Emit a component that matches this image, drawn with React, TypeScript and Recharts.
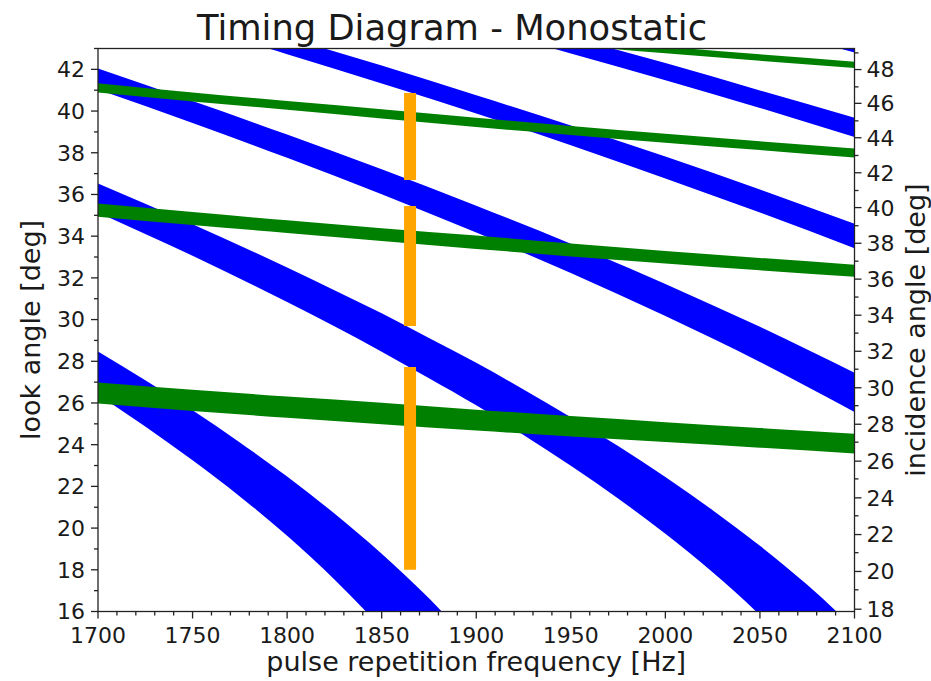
import React from 'react';
import { ComposedChart, Area, Line, XAxis, YAxis } from 'recharts';

// ---- data (look angle in deg vs PRF in Hz) ----
const prf50 = [1700, 1750, 1800, 1850, 1900, 1950, 2000, 2050, 2100];

// blue bands (transmit interference)
const bm2Lo = [51.36, 50.39, 49.37, 48.36, 47.3, 46.24, 45.11, 44.01, 42.81];
const bm2Hi = [51.86, 50.88, 49.93, 48.9, 47.91, 46.83, 45.78, 44.66, 43.54];
const bm1Lo = [48.71, 47.59, 46.44, 45.24, 44.05, 42.76, 41.475, 40.15, 38.75];
const bm1Hi = [49.29, 48.22, 47.08, 45.96, 44.75, 43.54, 42.3, 40.99, 39.68];
const b0Lo = [45.41, 44.11, 42.725, 41.32, 39.88, 38.36, 36.77, 35.13, 33.415];
const b0Hi = [46.14, 44.84, 43.53, 42.18, 40.76, 39.31, 37.82, 36.24, 34.59];
const b1Lo = [41.03, 39.43, 37.76, 36.01, 34.17, 32.23, 30.17, 27.97, 25.57];
const b1Hi = [42.045, 40.48, 38.875, 37.21, 35.46, 33.64, 31.71, 29.65, 27.45];

const prfB2 = [1700, 1750, 1800, 1825, 1850, 1875, 1900, 1925, 1950, 1975, 2000, 2025, 2050, 2075, 2100];
const b2Lo = [35.14, 33.06, 30.84, 29.68, 28.46, 27.19, 25.89, 24.47, 22.99, 21.42, 19.73, 17.88, 15.82, 13.42, 10.52];
const b2Hi = [36.53, 34.57, 32.5, 31.41, 30.3, 29.12, 27.93, 26.65, 25.32, 23.94, 22.45, 20.86, 19.15, 17.28, 15.18];

const prfB3 = [1700, 1725, 1750, 1775, 1800, 1825, 1850, 1875, 1900];
const b3Lo = [26.41, 24.87, 23.25, 21.52, 19.63, 17.54, 15.17, 12.38, 8.71];
const b3Hi = [28.47, 27.09, 25.65, 24.11, 22.47, 20.7, 18.77, 16.63, 14.2];

// green bands (nadir returns)
const g0Lo = [45.22, 44.78, 44.37, 43.98, 43.55, 43.15, 42.77, 42.41, 42.06];
const g0Hi = [45.56, 45.11, 44.69, 44.29, 43.89, 43.48, 43.09, 42.72, 42.37];
const g1Lo = [40.886, 40.46, 40.06, 39.64, 39.23, 38.85, 38.48, 38.13, 37.77];
const g1Hi = [41.33, 40.89, 40.48, 40.09, 39.68, 39.28, 38.91, 38.55, 38.21];
const g2Lo = [34.935, 34.53, 34.155, 33.77, 33.39, 33.03, 32.69, 32.36, 32.05];
const g2Hi = [35.57, 35.155, 34.76, 34.38, 34.03, 33.65, 33.29, 32.955, 32.63];
const g3Lo = [25.98, 25.62, 25.29, 24.98, 24.68, 24.39, 24.13, 23.855, 23.58];
const g3Hi = [26.98, 26.63, 26.31, 26.01, 25.68, 25.37, 25.08, 24.8, 24.53];

// orange: selected PRF, valid look angle intervals
const selectedPrf = 1865;
const orangeLo = [36.69, 29.69, 18.0];
const orangeHi = [40.87, 35.45, 27.72];

// axis ticks
const xMajor = [1700, 1750, 1800, 1850, 1900, 1950, 2000, 2050, 2100];
const xMinorStep = 10;
const lookMajor = [16, 18, 20, 22, 24, 26, 28, 30, 32, 34, 36, 38, 40, 42];
const lookMinor = [17, 19, 21, 23, 25, 27, 29, 31, 33, 35, 37, 39, 41, 43];
const incMajor = [18, 20, 22, 24, 26, 28, 30, 32, 34, 36, 38, 40, 42, 44, 46, 48];
const incMajorAtLook = [16.11, 17.92, 19.69, 21.45, 23.21, 24.98, 26.73, 28.48, 30.21, 31.94, 33.66, 35.37, 37.04, 38.72, 40.37, 41.99];
const incMinorAtLook = [17.04, 18.82, 20.59, 22.36, 24.12, 25.87, 27.62, 29.35, 31.08, 32.8, 34.5, 36.19, 37.87, 39.53, 41.16, 42.79];

// ---- build ----
const band = (xs: number[], lo: number[], hi: number[]) => xs.map((f, i) => ({ f, v: [lo[i], hi[i]] }));
const blueBands = [
  band(prf50, bm2Lo, bm2Hi),
  band(prf50, bm1Lo, bm1Hi),
  band(prf50, b0Lo, b0Hi),
  band(prf50, b1Lo, b1Hi),
  band(prfB2, b2Lo, b2Hi),
  band(prfB3, b3Lo, b3Hi),
];
const greenBands = [
  band(prf50, g0Lo, g0Hi),
  band(prf50, g1Lo, g1Hi),
  band(prf50, g2Lo, g2Hi),
  band(prf50, g3Lo, g3Hi),
];
const orangeSegs = orangeLo.map((lo, i) => [
  { f: selectedPrf, v: lo },
  { f: selectedPrf, v: orangeHi[i] },
]);

const xTicks: number[] = [];
for (let v = xMajor[0]; v <= xMajor[xMajor.length - 1]; v += xMinorStep) xTicks.push(v);
const lookTicks = [...lookMajor, ...lookMinor].sort((a, b) => a - b);
const incTicks = [...incMajorAtLook, ...incMinorAtLook].sort((a, b) => a - b);

// ---- layout / style ----
const W = 931;
const H = 681;
const PL = 98;
const PR = 854.5;
const PT = 48.5;
const PB = 611.5;
const FONT = 'DejaVu Sans';
const TICK = '#222';
const TXT = '#1a1a1a';
const TICK_FS = 22;
const LABEL_FS = 27;
const MAJ = 7;
const MIN = 4;

const XTick = (props: any) => {
  const { x, y, payload } = props;
  const v = payload.value;
  const major = xMajor.includes(v);
  return (
    <g>
      <line x1={x} x2={x} y1={y} y2={y + (major ? MAJ : MIN)} stroke={TICK} strokeWidth={1.3} />
      {major && (
        <text x={x} y={y + 31} textAnchor="middle" fontSize={TICK_FS} fontFamily={FONT} fill={TXT}>
          {v}
        </text>
      )}
    </g>
  );
};

const LeftTick = (props: any) => {
  const { x, y, payload } = props;
  const v = payload.value;
  const major = lookMajor.includes(v);
  return (
    <g>
      <line x1={x - (major ? MAJ : MIN)} x2={x} y1={y} y2={y} stroke={TICK} strokeWidth={1.3} />
      {major && (
        <text x={x - 13} y={y} dy="0.36em" textAnchor="end" fontSize={TICK_FS} fontFamily={FONT} fill={TXT}>
          {v}
        </text>
      )}
    </g>
  );
};

const RightTick = (props: any) => {
  const { x, y, payload } = props;
  const v = payload.value;
  const idx = incMajorAtLook.indexOf(v);
  const major = idx >= 0;
  return (
    <g>
      <line x1={x} x2={x + (major ? MAJ : MIN)} y1={y} y2={y} stroke={TICK} strokeWidth={1.3} />
      {major && (
        <text x={x + 12} y={y} dy="0.36em" textAnchor="start" fontSize={TICK_FS} fontFamily={FONT} fill={TXT}>
          {incMajor[idx]}
        </text>
      )}
    </g>
  );
};

export default function App() {
  return (
    <div style={{ position: 'absolute', left: 0, top: 0, width: W, height: H, background: '#fff' }}>
      <ComposedChart width={W} height={H} margin={{ top: PT, right: 0, bottom: 0, left: 0 }}>
        <XAxis
          dataKey="f"
          type="number"
          domain={[1700, 2100]}
          ticks={xTicks}
          interval={0}
          allowDataOverflow
          height={H - PB}
          tickSize={0}
          tickMargin={0}
          tickLine={false}
          axisLine={false}
          tick={XTick}
        />
        <YAxis
          type="number"
          domain={[16, 43]}
          ticks={lookTicks}
          interval={0}
          allowDataOverflow
          width={PL}
          tickSize={0}
          tickMargin={0}
          tickLine={false}
          axisLine={false}
          tick={LeftTick}
        />
        <YAxis
          yAxisId="right"
          orientation="right"
          type="number"
          domain={[16, 43]}
          ticks={incTicks}
          interval={0}
          allowDataOverflow
          width={W - PR}
          tickSize={0}
          tickMargin={0}
          tickLine={false}
          axisLine={false}
          tick={RightTick}
        />
        {blueBands.map((d, i) => (
          <Area
            key={'b' + i}
            data={d}
            dataKey="v"
            type="monotone"
            fill="#0000ff"
            fillOpacity={1}
            stroke="none"
            isAnimationActive={false}
            activeDot={false}
            dot={false}
          />
        ))}
        {greenBands.map((d, i) => (
          <Area
            key={'g' + i}
            data={d}
            dataKey="v"
            type="monotone"
            fill="#008000"
            fillOpacity={1}
            stroke="none"
            isAnimationActive={false}
            activeDot={false}
            dot={false}
          />
        ))}
        {orangeSegs.map((d, i) => (
          <Line
            key={'o' + i}
            data={d}
            dataKey="v"
            stroke="#ffa500"
            strokeWidth={12}
            strokeLinecap="butt"
            dot={false}
            activeDot={false}
            isAnimationActive={false}
          />
        ))}
      </ComposedChart>
      <svg width={W} height={H} style={{ position: 'absolute', left: 0, top: 0, pointerEvents: 'none' }}>
        <rect x={PL} y={PT} width={PR - PL} height={PB - PT} fill="none" stroke="#222" strokeWidth={1.3} />
        <text x={452} y={39.5} textAnchor="middle" fontSize={35.3} fontFamily={FONT} fill={TXT}>
          Timing Diagram - Monostatic
        </text>
        <text x={(PL + PR) / 2} y={671} textAnchor="middle" fontSize={LABEL_FS} fontFamily={FONT} fill={TXT}>
          pulse repetition frequency [Hz]
        </text>
        <text
          transform={`translate(40, ${(PT + PB) / 2}) rotate(-90)`}
          textAnchor="middle"
          fontSize={LABEL_FS}
          fontFamily={FONT}
          fill={TXT}
        >
          look angle [deg]
        </text>
        <text
          transform={`translate(925, ${(PT + PB) / 2}) rotate(-90)`}
          textAnchor="middle"
          fontSize={LABEL_FS}
          fontFamily={FONT}
          fill={TXT}
        >
          incidence angle [deg]
        </text>
      </svg>
    </div>
  );
}
